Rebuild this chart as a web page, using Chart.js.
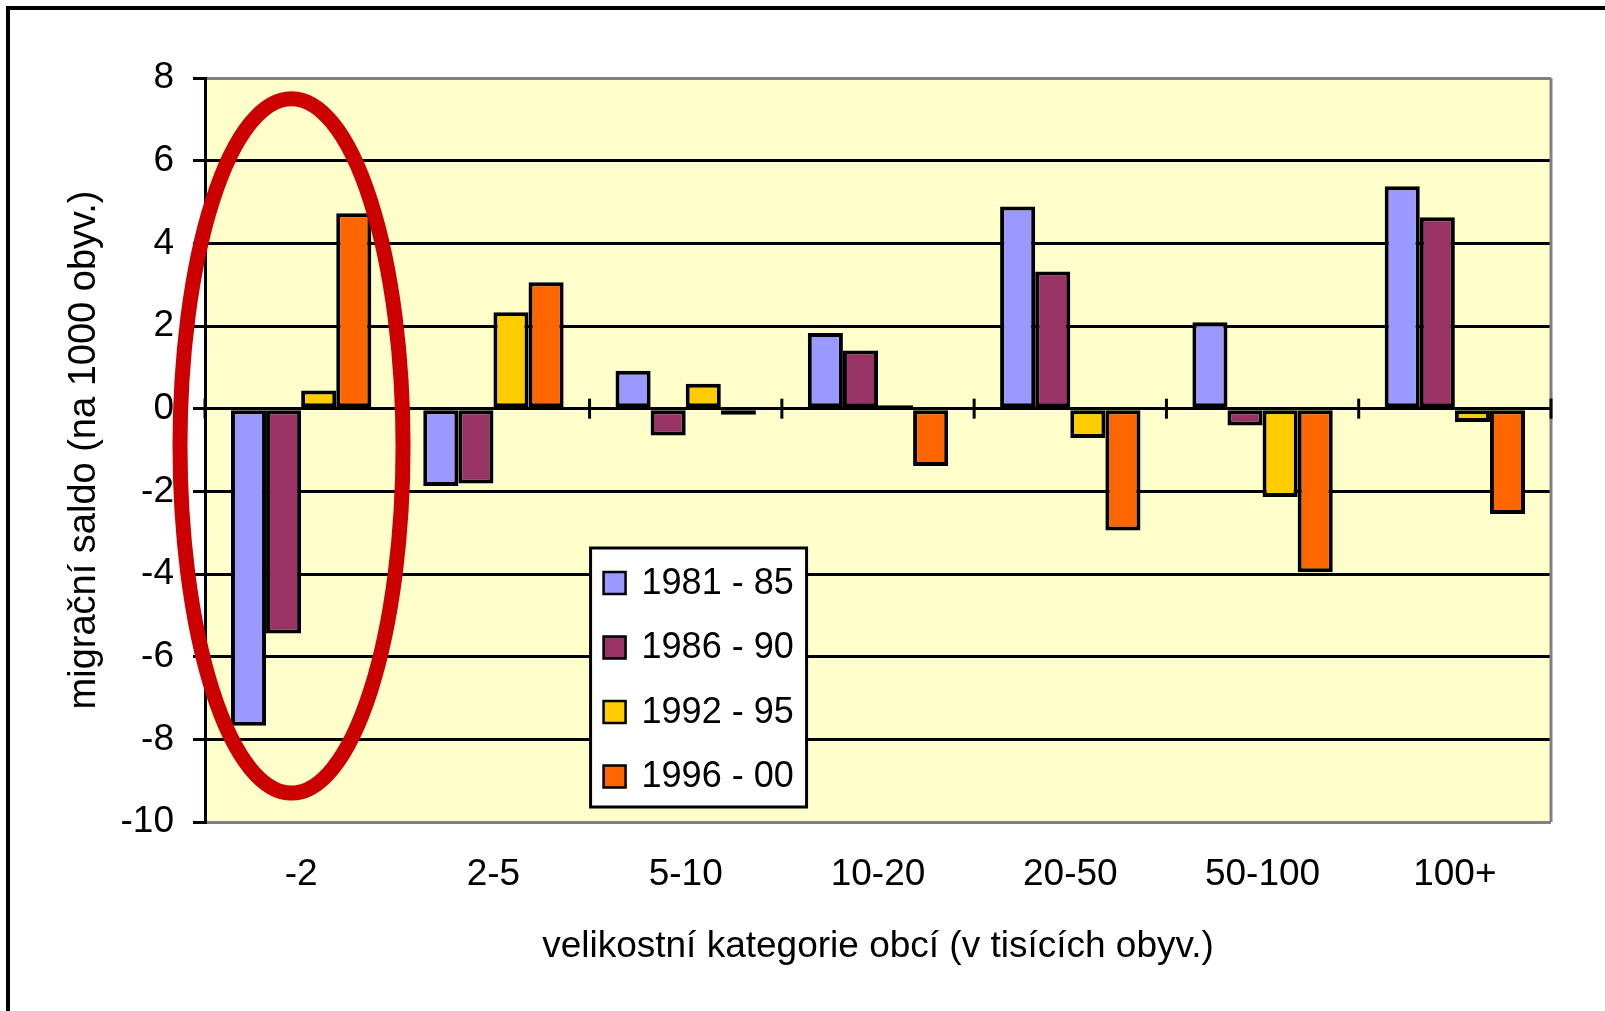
<!DOCTYPE html>
<html>
<head>
<meta charset="utf-8">
<script src="https://cdn.jsdelivr.net/npm/chart.js@4.4.1/dist/chart.umd.min.js"></script>
<style>
  html, body { margin: 0; padding: 0; background: #fff; }
  canvas { display: block; }
</style>
</head>
<body>
<canvas id="chart" width="1605" height="1011"></canvas>
<script>
// data (migration balance per 1000 inhabitants)
const categories = ["-2", "2-5", "5-10", "10-20", "20-50", "50-100", "100+"];
const periods = ["1981 - 85", "1986 - 90", "1992 - 95", "1996 - 00"];
const saldo8185 = [-7.67, -1.87, 0.92, 1.83, 4.89, 2.09, 5.38];
const saldo8690 = [-5.44, -1.81, -0.65, 1.41, 3.32, -0.41, 4.63];
const saldo9295 = [0.44, 2.33, 0.60, 0.08, -0.71, -2.14, -0.32];
const saldo9600 = [4.73, 3.06, -0.15, -1.39, -2.95, -3.96, -2.55];
const colors = ["#9999FF", "#993366", "#FFCC00", "#FF6600"];

const FONT = "'Liberation Sans', Arial, sans-serif";

const seriesValues = [saldo8185, saldo8690, saldo9295, saldo9600];

// background, outer frame and right border of the plot
const backdrop = {
  id: "backdrop",
  beforeDraw(chart) {
    const { ctx, chartArea: a } = chart;
    ctx.save();
    ctx.fillStyle = "#FFFFCC";
    ctx.fillRect(a.left, a.top, a.right - a.left, a.bottom - a.top);
    ctx.strokeStyle = "#000";
    ctx.lineWidth = 4;
    ctx.strokeRect(8, 8, chart.width + 20, chart.height + 20);
    ctx.restore();
  },
  beforeDatasetsDraw(chart) {
    const { ctx, chartArea: a } = chart;
    ctx.save();
    ctx.strokeStyle = "#808080";
    ctx.lineWidth = 3;
    ctx.beginPath();
    ctx.moveTo(a.right, a.top);
    ctx.lineTo(a.right, a.bottom);
    ctx.stroke();
    ctx.restore();
  }
};

// cross tick marks on the zero line, red highlight, legend box
const overlay = {
  id: "overlay",
  afterDatasetsDraw(chart) {
    const { ctx, scales: { x, y } } = chart;
    const y0 = y.getPixelForValue(0);
    ctx.save();
    ctx.strokeStyle = "#000";
    ctx.lineWidth = 3;
    for (let i = 0; i <= categories.length; i++) {
      const px = x.getPixelForValue(i - 0.5);
      ctx.beginPath();
      ctx.moveTo(px, y0 - 10);
      ctx.lineTo(px, y0 + 10);
      ctx.stroke();
    }

    // red ellipse around the smallest category
    const cw = x.getPixelForValue(1) - x.getPixelForValue(0);
    const cx = x.getPixelForValue(-0.05);
    const yTop = y.getPixelForValue(7.5);
    const yBot = y.getPixelForValue(-9.3);
    ctx.strokeStyle = "#CC0000";
    ctx.lineWidth = 15;
    ctx.beginPath();
    ctx.ellipse(cx, (yTop + yBot) / 2, 0.58 * cw, (yBot - yTop) / 2, 0, 0, Math.PI * 2);
    ctx.stroke();
    ctx.restore();
  },
  afterDraw(chart) {
    const { ctx, scales: { x }, chartArea: a } = chart;
    const left = x.getPixelForValue(1.5) + 1;
    const top = a.top + 470;
    const w = 216, h = 259;
    ctx.save();
    ctx.fillStyle = "#fff";
    ctx.fillRect(left, top, w, h);
    ctx.strokeStyle = "#000";
    ctx.lineWidth = 3;
    ctx.strokeRect(left, top, w, h);
    ctx.font = "36px " + FONT;
    ctx.textBaseline = "middle";
    chart.data.datasets.forEach((ds, i) => {
      const cy = top + 35 + i * 64.5;
      ctx.fillStyle = ds.backgroundColor;
      ctx.fillRect(left + 13, cy - 11, 22, 22);
      ctx.lineWidth = 2.5;
      ctx.strokeRect(left + 13, cy - 11, 22, 22);
      ctx.fillStyle = "#000";
      ctx.fillText(ds.label, left + 51, cy + 1);
    });
    ctx.restore();
  }
};

new Chart(document.getElementById("chart"), {
  type: "bar",
  data: {
    labels: categories,
    datasets: periods.map((p, i) => ({
      label: p,
      data: seriesValues[i],
      backgroundColor: colors[i],
      borderColor: "#000",
      borderWidth: 4,
      borderSkipped: false,
      barPercentage: 1,
      categoryPercentage: 0.73
    }))
  },
  options: {
    responsive: false,
    animation: false,
    devicePixelRatio: 1,
    layout: { padding: { top: 78, right: 54, left: 0, bottom: 0 } },
    plugins: { legend: { display: false }, tooltip: { enabled: false } },
    scales: {
      x: {
        grid: { display: false, drawTicks: false },
        border: { display: false },
        ticks: { color: "#000", font: { family: FONT, size: 37 }, padding: 31, maxRotation: 0, autoSkip: false },
        title: {
          display: true,
          text: "velikostní kategorie obcí (v tisících obyv.)",
          color: "#000",
          font: { family: FONT, size: 37 },
          padding: { top: 26, bottom: 42 }
        },
        afterFit(scale) { scale.height = 189; }
      },
      y: {
        min: -10,
        max: 8,
        ticks: { stepSize: 2, color: "#000", font: { family: FONT, size: 37 }, padding: 19 },
        grid: {
          color: (c) => (c.tick && (c.tick.value === 8 || c.tick.value === -10)) ? "#808080" : "#000",
          lineWidth: 3,
          tickColor: "#000",
          tickLength: 12,
          tickWidth: 3
        },
        border: { color: "#000", width: 3 },
        title: {
          display: true,
          text: "migrační saldo (na 1000 obyv.)",
          color: "#000",
          font: { family: FONT, size: 38 },
          padding: { top: 62, bottom: 0 }
        },
        afterFit(scale) { scale.width = 205; }
      }
    }
  },
  plugins: [backdrop, overlay]
});
</script>
</body>
</html>
